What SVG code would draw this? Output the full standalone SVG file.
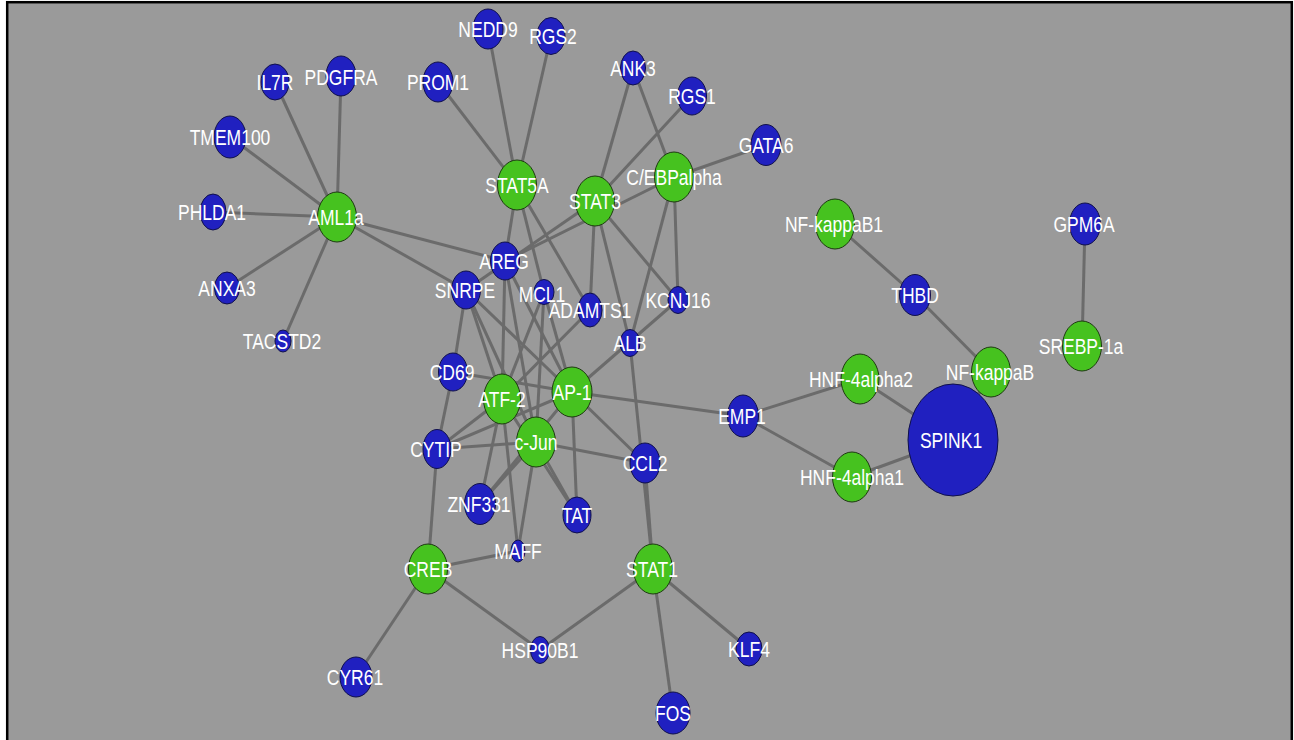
<svg xmlns="http://www.w3.org/2000/svg" width="1294" height="740" viewBox="0 0 1294 740">
  <style>
    .edge { stroke: #6b6b6b; stroke-width: 3; fill: none; }
    .tf { fill: #46c21f; stroke: #1d3a10; stroke-width: 1; }
    .gene { fill: #2020c0; stroke: #10104a; stroke-width: 1; }
    .lbl { font-family: "Liberation Sans", Arial, sans-serif; font-size: 17.5px; fill: #ffffff; text-anchor: middle; }
  </style>
  <rect x="0" y="0" width="1294" height="740" fill="#ffffff"/>
  <rect x="7.2" y="2.2" width="1284.6" height="760" fill="#9a9a9a" stroke="#000000" stroke-width="2.5"/>

  <g id="connectors">
    <!-- AML1a targets -->
    <line class="edge" x1="337" y1="217" x2="275" y2="82"/>
    <line class="edge" x1="337" y1="217" x2="341" y2="76"/>
    <line class="edge" x1="337" y1="217" x2="230" y2="137"/>
    <line class="edge" x1="337" y1="217" x2="213" y2="212"/>
    <line class="edge" x1="337" y1="217" x2="227" y2="288"/>
    <line class="edge" x1="337" y1="217" x2="283" y2="341"/>
    <line class="edge" x1="337" y1="217" x2="505" y2="261"/>
    <line class="edge" x1="337" y1="217" x2="466" y2="290"/>
    <!-- STAT5A -->
    <line class="edge" x1="517" y1="185" x2="438" y2="82"/>
    <line class="edge" x1="517" y1="185" x2="488" y2="29"/>
    <line class="edge" x1="517" y1="185" x2="551" y2="36"/>
    <line class="edge" x1="517" y1="185" x2="505" y2="261"/>
    <line class="edge" x1="517" y1="185" x2="544" y2="292"/>
    <line class="edge" x1="517" y1="185" x2="590" y2="310"/>
    <!-- STAT3 -->
    <line class="edge" x1="595" y1="201" x2="633" y2="68"/>
    <line class="edge" x1="595" y1="201" x2="692" y2="96"/>
    <line class="edge" x1="595" y1="201" x2="466" y2="290"/>
    <line class="edge" x1="595" y1="201" x2="590" y2="310"/>
    <line class="edge" x1="595" y1="201" x2="630" y2="343"/>
    <line class="edge" x1="595" y1="201" x2="678" y2="300"/>
    <!-- C/EBPalpha -->
    <line class="edge" x1="674" y1="177" x2="633" y2="68"/>
    <line class="edge" x1="674" y1="177" x2="766" y2="145"/>
    <line class="edge" x1="674" y1="177" x2="505" y2="261"/>
    <line class="edge" x1="674" y1="177" x2="630" y2="343"/>
    <line class="edge" x1="674" y1="177" x2="678" y2="300"/>
    <!-- central cluster -->
    <line class="edge" x1="466" y1="290" x2="453" y2="372"/>
    <line class="edge" x1="466" y1="290" x2="502" y2="399"/>
    <line class="edge" x1="466" y1="290" x2="536" y2="442"/>
    <line class="edge" x1="466" y1="290" x2="572" y2="392"/>
    <line class="edge" x1="505" y1="261" x2="502" y2="399"/>
    <line class="edge" x1="505" y1="261" x2="536" y2="442"/>
    <line class="edge" x1="505" y1="261" x2="572" y2="392"/>
    <line class="edge" x1="544" y1="292" x2="502" y2="399"/>
    <line class="edge" x1="544" y1="292" x2="536" y2="442"/>
    <line class="edge" x1="544" y1="292" x2="572" y2="392"/>
    <line class="edge" x1="590" y1="310" x2="502" y2="399"/>
    <line class="edge" x1="572" y1="392" x2="678" y2="300"/>
    <line class="edge" x1="630" y1="343" x2="653" y2="569"/>
    <line class="edge" x1="453" y1="372" x2="572" y2="392"/>
    <line class="edge" x1="453" y1="372" x2="437" y2="449"/>
    <line class="edge" x1="437" y1="449" x2="502" y2="399"/>
    <line class="edge" x1="437" y1="449" x2="572" y2="392"/>
    <line class="edge" x1="437" y1="449" x2="536" y2="442"/>
    <line class="edge" x1="437" y1="449" x2="428" y2="569"/>
    <line class="edge" x1="480" y1="504" x2="502" y2="399"/>
    <line class="edge" x1="480" y1="504" x2="536" y2="442"/>
    <line class="edge" x1="480" y1="504" x2="572" y2="392"/>
    <line class="edge" x1="577" y1="515" x2="572" y2="392"/>
    <line class="edge" x1="577" y1="515" x2="536" y2="442"/>
    <line class="edge" x1="577" y1="515" x2="502" y2="399"/>
    <line class="edge" x1="518" y1="551" x2="502" y2="399"/>
    <line class="edge" x1="518" y1="551" x2="536" y2="442"/>
    <line class="edge" x1="518" y1="551" x2="428" y2="569"/>
    <line class="edge" x1="572" y1="392" x2="645" y2="463"/>
    <line class="edge" x1="536" y1="442" x2="645" y2="463"/>
    <line class="edge" x1="645" y1="463" x2="653" y2="569"/>
    <line class="edge" x1="572" y1="392" x2="743" y2="416"/>
    <!-- CREB / STAT1 -->
    <line class="edge" x1="428" y1="569" x2="540" y2="650"/>
    <line class="edge" x1="428" y1="569" x2="356" y2="677"/>
    <line class="edge" x1="653" y1="569" x2="540" y2="650"/>
    <line class="edge" x1="653" y1="569" x2="749" y2="649"/>
    <line class="edge" x1="653" y1="569" x2="673" y2="713"/>
    <!-- right-hand cluster -->
    <line class="edge" x1="743" y1="416" x2="860" y2="379"/>
    <line class="edge" x1="743" y1="416" x2="852" y2="477"/>
    <line class="edge" x1="860" y1="379" x2="953" y2="440"/>
    <line class="edge" x1="852" y1="477" x2="953" y2="440"/>
    <line class="edge" x1="991" y1="372" x2="953" y2="440"/>
    <line class="edge" x1="835" y1="224" x2="915" y2="295"/>
    <line class="edge" x1="915" y1="295" x2="991" y2="372"/>
    <line class="edge" x1="1085" y1="224" x2="1082" y2="346"/>
  </g>

  <g id="n-IL7R"><ellipse class="gene" cx="275" cy="82" rx="14" ry="18"/><text class="lbl" transform="translate(275 89.8) scale(1 1.25)">IL7R</text></g>
  <g id="n-PDGFRA"><ellipse class="gene" cx="341" cy="76" rx="15" ry="20"/><text class="lbl" transform="translate(341 84.8) scale(1 1.25)">PDGFRA</text></g>
  <g id="n-PROM1"><ellipse class="gene" cx="438" cy="82" rx="15" ry="20"/><text class="lbl" transform="translate(438 89.8) scale(1 1.25)">PROM1</text></g>
  <g id="n-NEDD9"><ellipse class="gene" cx="488" cy="29" rx="15" ry="20"/><text class="lbl" transform="translate(488 36.8) scale(1 1.25)">NEDD9</text></g>
  <g id="n-RGS2"><ellipse class="gene" cx="551" cy="36" rx="14" ry="18.5"/><text class="lbl" transform="translate(553 43.8) scale(1 1.25)">RGS2</text></g>
  <g id="n-ANK3"><ellipse class="gene" cx="633" cy="68" rx="12.5" ry="17"/><text class="lbl" transform="translate(633 75.8) scale(1 1.25)">ANK3</text></g>
  <g id="n-RGS1"><ellipse class="gene" cx="692" cy="96" rx="14.5" ry="19"/><text class="lbl" transform="translate(692 103.8) scale(1 1.25)">RGS1</text></g>
  <g id="n-GATA6"><ellipse class="gene" cx="766" cy="145" rx="15" ry="20.5"/><text class="lbl" transform="translate(766 152.8) scale(1 1.25)">GATA6</text></g>
  <g id="n-TMEM100"><ellipse class="gene" cx="230" cy="137" rx="16" ry="21"/><text class="lbl" transform="translate(230 145.3) scale(1 1.25)">TMEM100</text></g>
  <g id="n-PHLDA1"><ellipse class="gene" cx="213" cy="212" rx="13" ry="18"/><text class="lbl" transform="translate(212 219.8) scale(1 1.25)">PHLDA1</text></g>
  <g id="n-ANXA3"><ellipse class="gene" cx="227" cy="288" rx="12.5" ry="16"/><text class="lbl" transform="translate(227 296.3) scale(1 1.25)">ANXA3</text></g>
  <g id="n-TACSTD2"><ellipse class="gene" cx="283" cy="341" rx="8" ry="11"/><text class="lbl" transform="translate(282 348.8) scale(1 1.25)">TACSTD2</text></g>
  <g id="n-AML1a"><ellipse class="tf" cx="337" cy="217" rx="19.5" ry="25"/><text class="lbl" transform="translate(336 225.3) scale(1 1.25)">AML1a</text></g>
  <g id="n-STAT5A"><ellipse class="tf" cx="517" cy="185" rx="19.5" ry="25"/><text class="lbl" transform="translate(517 192.8) scale(1 1.25)">STAT5A</text></g>
  <g id="n-STAT3"><ellipse class="tf" cx="595" cy="201" rx="19.5" ry="25"/><text class="lbl" transform="translate(595 209.3) scale(1 1.25)">STAT3</text></g>
  <g id="n-CEBPalpha"><ellipse class="tf" cx="674" cy="177" rx="19.5" ry="25"/><text class="lbl" transform="translate(674 185) scale(1 1.25)">C/EBPalpha</text></g>
  <g id="n-AREG"><ellipse class="gene" cx="505" cy="261" rx="14.5" ry="19"/><text class="lbl" transform="translate(504 268.8) scale(1 1.25)">AREG</text></g>
  <g id="n-SNRPE"><ellipse class="gene" cx="466" cy="290" rx="14.5" ry="19"/><text class="lbl" transform="translate(465 298) scale(1 1.25)">SNRPE</text></g>
  <g id="n-MCL1"><ellipse class="gene" cx="544" cy="292" rx="10" ry="12.5"/><text class="lbl" transform="translate(542 301.5) scale(1 1.25)">MCL1</text></g>
  <g id="n-ADAMTS1"><ellipse class="gene" cx="590" cy="310" rx="12" ry="17"/><text class="lbl" transform="translate(590 317.8) scale(1 1.25)">ADAMTS1</text></g>
  <g id="n-KCNJ16"><ellipse class="gene" cx="678" cy="300" rx="10" ry="13.5"/><text class="lbl" transform="translate(678 307.8) scale(1 1.25)">KCNJ16</text></g>
  <g id="n-ALB"><ellipse class="gene" cx="630" cy="343" rx="10" ry="13.5"/><text class="lbl" transform="translate(630 350.8) scale(1 1.25)">ALB</text></g>
  <g id="n-CD69"><ellipse class="gene" cx="453" cy="372" rx="14.5" ry="19"/><text class="lbl" transform="translate(452 379.8) scale(1 1.25)">CD69</text></g>
  <g id="n-ATF-2"><ellipse class="tf" cx="502" cy="399" rx="18.5" ry="25"/><text class="lbl" transform="translate(502 406.8) scale(1 1.25)">ATF-2</text></g>
  <g id="n-AP-1"><ellipse class="tf" cx="572" cy="392" rx="20" ry="25"/><text class="lbl" transform="translate(572 399.8) scale(1 1.25)">AP-1</text></g>
  <g id="n-c-Jun"><ellipse class="tf" cx="536" cy="442" rx="19.5" ry="25"/><text class="lbl" transform="translate(536 449.8) scale(1 1.25)">c-Jun</text></g>
  <g id="n-CYTIP"><ellipse class="gene" cx="437" cy="449" rx="14" ry="19.5"/><text class="lbl" transform="translate(436 456.8) scale(1 1.25)">CYTIP</text></g>
  <g id="n-CCL2"><ellipse class="gene" cx="645" cy="463" rx="15" ry="20"/><text class="lbl" transform="translate(645 470.8) scale(1 1.25)">CCL2</text></g>
  <g id="n-ZNF331"><ellipse class="gene" cx="480" cy="504" rx="15.5" ry="20.5"/><text class="lbl" transform="translate(479 511.8) scale(1 1.25)">ZNF331</text></g>
  <g id="n-TAT"><ellipse class="gene" cx="577" cy="515" rx="14" ry="18"/><text class="lbl" transform="translate(577 522.8) scale(1 1.25)">TAT</text></g>
  <g id="n-MAFF"><ellipse class="gene" cx="518" cy="551" rx="7" ry="11"/><text class="lbl" transform="translate(518 558.8) scale(1 1.25)">MAFF</text></g>
  <g id="n-CREB"><ellipse class="tf" cx="428" cy="569" rx="19.5" ry="25"/><text class="lbl" transform="translate(428 576.8) scale(1 1.25)">CREB</text></g>
  <g id="n-STAT1"><ellipse class="tf" cx="653" cy="569" rx="19.5" ry="25"/><text class="lbl" transform="translate(652 576.8) scale(1 1.25)">STAT1</text></g>
  <g id="n-HSP90B1"><ellipse class="gene" cx="540" cy="650" rx="9.5" ry="13.5"/><text class="lbl" transform="translate(540 657.8) scale(1 1.25)">HSP90B1</text></g>
  <g id="n-KLF4"><ellipse class="gene" cx="749" cy="649" rx="13" ry="17"/><text class="lbl" transform="translate(749 656.8) scale(1 1.25)">KLF4</text></g>
  <g id="n-CYR61"><ellipse class="gene" cx="356" cy="677" rx="16" ry="20"/><text class="lbl" transform="translate(355 684.8) scale(1 1.25)">CYR61</text></g>
  <g id="n-FOS"><ellipse class="gene" cx="673" cy="713" rx="17" ry="21"/><text class="lbl" transform="translate(673 720.8) scale(1 1.25)">FOS</text></g>
  <g id="n-EMP1"><ellipse class="gene" cx="743" cy="416" rx="15.5" ry="21"/><text class="lbl" transform="translate(742 423.8) scale(1 1.25)">EMP1</text></g>
  <g id="n-HNF-4alpha2"><ellipse class="tf" cx="860" cy="379" rx="19" ry="25"/><text class="lbl" transform="translate(861 386.8) scale(1 1.25)">HNF-4alpha2</text></g>
  <g id="n-HNF-4alpha1"><ellipse class="tf" cx="852" cy="477" rx="19.5" ry="25"/><text class="lbl" transform="translate(852 484.8) scale(1 1.25)">HNF-4alpha1</text></g>
  <g id="n-SPINK1"><ellipse class="gene" cx="953" cy="440" rx="45" ry="56"/><text class="lbl" transform="translate(951 447.8) scale(1 1.25)">SPINK1</text></g>
  <g id="n-NF-kappaB1"><ellipse class="tf" cx="835" cy="224" rx="19.5" ry="25"/><text class="lbl" transform="translate(834 231.8) scale(1 1.25)">NF-kappaB1</text></g>
  <g id="n-THBD"><ellipse class="gene" cx="915" cy="295" rx="15.5" ry="20.5"/><text class="lbl" transform="translate(915 302.8) scale(1 1.25)">THBD</text></g>
  <g id="n-NF-kappaB"><ellipse class="tf" cx="991" cy="372" rx="19.5" ry="25"/><text class="lbl" transform="translate(990 379.8) scale(1 1.25)">NF-kappaB</text></g>
  <g id="n-SREBP-1a"><ellipse class="tf" cx="1082" cy="346" rx="19.5" ry="25"/><text class="lbl" transform="translate(1081 353.8) scale(1 1.25)">SREBP-1a</text></g>
  <g id="n-GPM6A"><ellipse class="gene" cx="1085" cy="224" rx="15.5" ry="21"/><text class="lbl" transform="translate(1084 231.8) scale(1 1.25)">GPM6A</text></g>
</svg>
